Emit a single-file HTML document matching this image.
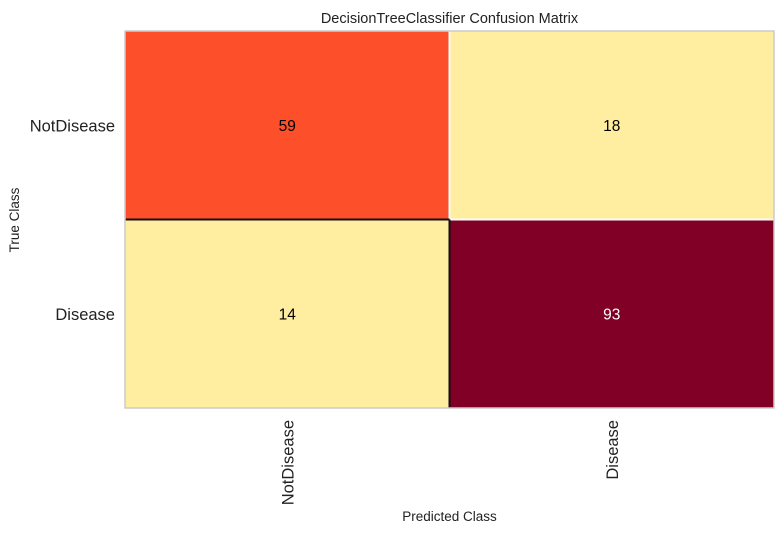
<!DOCTYPE html>
<html><head><meta charset="utf-8"><style>
body{margin:0;background:#fff;width:784px;height:534px;overflow:hidden}
svg{font-family:"Liberation Sans",sans-serif}
</style></head><body>
<svg id="chart" width="784" height="534" viewBox="0 0 784 534">
<text x="449.5" y="23" font-size="14.5" text-anchor="middle" fill="#222">DecisionTreeClassifier Confusion Matrix</text>
<g id="cells"></g>
<g id="lines"></g>
<rect x="125" y="31" width="649" height="377" fill="none" stroke="#ccc" stroke-width="1.5"/>
<g id="labels"></g>
<text transform="translate(19,220) rotate(-90)" font-size="13.5" text-anchor="middle" fill="#222">True Class</text>
<text x="449.5" y="521" font-size="13.5" text-anchor="middle" fill="#222">Predicted Class</text>
</svg>
<script>
const classes = ["NotDisease","Disease"];
const matrix = [[59,18],[14,93]];
const ns="http://www.w3.org/2000/svg";
const x0=125,y0=31,W=649,H=377;
const n=classes.length,cw=W/n,ch=H/n;
const maxV=Math.max(...matrix.flat()),minV=Math.min(...matrix.flat());
const stops=[[255,237,160],[254,217,118],[254,178,76],[253,141,60],[252,78,42],[227,26,28],[189,0,38],[128,0,38]];
function color(v){let t=(v-minV)/(maxV-minV);if(t<0.12)return"#ffeda0";let p=t*(stops.length-1),i=Math.min(Math.floor(p),stops.length-2),f=p-i;const c=stops[i].map((a,k)=>Math.round(a+(stops[i+1][k]-a)*f));return`rgb(${c})`;}
const cells=document.getElementById('cells'),labels=document.getElementById('labels'),lines=document.getElementById('lines');
function line(x1,y1,x2,y2,col,name){const l=document.createElementNS(ns,'line');
 
 
 l.setAttribute('x1',x1);l.setAttribute('y1',y1);l.setAttribute('x2',x2);l.setAttribute('y2',y2);l.setAttribute('stroke',col);l.setAttribute('stroke-width','2');lines.appendChild(l);}
matrix.forEach((row,r)=>row.forEach((v,c)=>{
 const rect=document.createElementNS(ns,'rect');
 
 
 rect.setAttribute('x',x0+c*cw);rect.setAttribute('y',y0+r*ch);rect.setAttribute('width',cw);rect.setAttribute('height',ch);
 rect.setAttribute('fill',color(v));
 cells.appendChild(rect);
 const t=document.createElementNS(ns,'text');
 
 
 t.setAttribute('x',x0+(c+0.5)*cw);t.setAttribute('y',y0+(r+0.5)*ch+5.5);
 t.setAttribute('text-anchor','middle');t.setAttribute('font-size','15.5');
 t.setAttribute('fill',v>0.7*maxV?'#fff':'#000');t.textContent=v;labels.appendChild(t);
}));
line(x0+cw,y0,x0+cw,y0+ch,'#fff','white-divider');
line(x0+cw,y0+ch,x0+W,y0+ch,'#fff','white-divider');
line(x0,y0+ch,x0+cw,y0+ch,'#111','black-divider');
line(x0+cw,y0+ch,x0+cw,y0+H,'#111','black-divider');
classes.forEach((name,i)=>{
 const t=document.createElementNS(ns,'text');
 
 
 t.setAttribute('x',x0-10);t.setAttribute('y',y0+(i+0.5)*ch+6);t.setAttribute('text-anchor','end');t.setAttribute('font-size','16.5');t.setAttribute('fill','#222');t.textContent=name;labels.appendChild(t);
 const u=document.createElementNS(ns,'text');
 
 
 const cx=x0+(i+0.5)*cw+6;
 u.setAttribute('transform',`translate(${cx},${y0+H+12}) rotate(-90)`);u.setAttribute('text-anchor','end');u.setAttribute('font-size','16.5');u.setAttribute('fill','#222');u.textContent=name;labels.appendChild(u);
});
</script>
</body></html>
